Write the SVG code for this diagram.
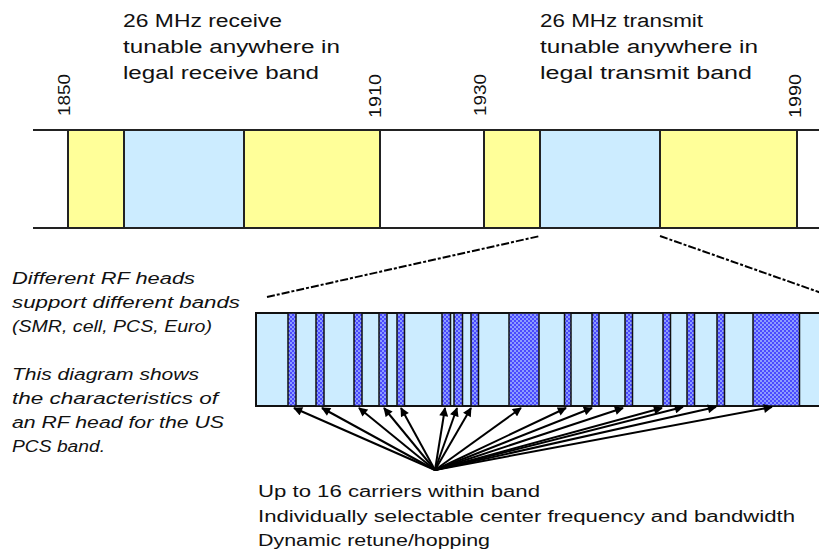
<svg xmlns="http://www.w3.org/2000/svg" width="819" height="552" viewBox="0 0 819 552">
<defs>
<pattern id="dots" width="4" height="4" patternUnits="userSpaceOnUse">
<rect width="4" height="4" fill="#4a4aff"/>
<rect x="0" y="0" width="2" height="2" fill="#8c9cff"/>
<rect x="2" y="2" width="2" height="2" fill="#8c9cff"/>
</pattern>
<marker id="ah" viewBox="0 0 10 10" refX="9" refY="5" markerWidth="5" markerHeight="4.5" orient="auto" markerUnits="strokeWidth">
<path d="M0,0 L10,5 L0,10 z" fill="#000"/>
</marker>
</defs>
<style>
.t{font-family:"Liberation Sans",Arial,sans-serif;font-size:18px;fill:#111}
.i{font-family:"Liberation Sans",Arial,sans-serif;font-size:16px;font-style:italic;fill:#111}
.b{font-family:"Liberation Sans",Arial,sans-serif;font-size:16px;fill:#111}
.y{fill:#ffff99}
.lb{fill:#ccecff}
.ln{stroke:#222;stroke-width:2;fill:none}
.car{fill:url(#dots);stroke:#111;stroke-width:1.5}
.arr{stroke:#000;stroke-width:2;fill:none;marker-end:url(#ah)}
.dash{stroke:#000;stroke-width:2;fill:none;stroke-dasharray:8 2 3 2}
</style>
<rect width="819" height="552" fill="#fff"/>

<g id="top-band">
<rect class="y" x="68" y="130" width="56" height="98"/>
<rect class="lb" x="124" y="130" width="120" height="98"/>
<rect class="y" x="244" y="130" width="136" height="98"/>
<rect class="y" x="484" y="130" width="56" height="98"/>
<rect class="lb" x="540" y="130" width="120" height="98"/>
<rect class="y" x="660" y="130" width="137" height="98"/>
<line class="ln" x1="33" y1="130" x2="819" y2="130"/>
<line class="ln" x1="33" y1="228" x2="819" y2="228"/>
<line class="ln" x1="68" y1="130" x2="68" y2="228"/>
<line class="ln" x1="124" y1="130" x2="124" y2="228"/>
<line class="ln" x1="244" y1="130" x2="244" y2="228"/>
<line class="ln" x1="380" y1="130" x2="380" y2="228"/>
<line class="ln" x1="484" y1="130" x2="484" y2="228"/>
<line class="ln" x1="540" y1="130" x2="540" y2="228"/>
<line class="ln" x1="660" y1="130" x2="660" y2="228"/>
<line class="ln" x1="797" y1="130" x2="797" y2="228"/>
</g>

<g id="freq-labels">
<text class="b" transform="translate(70,116) rotate(-90)" textLength="42" lengthAdjust="spacingAndGlyphs">1850</text>
<text class="b" transform="translate(381,118) rotate(-90)" textLength="44" lengthAdjust="spacingAndGlyphs">1910</text>
<text class="b" transform="translate(486,116) rotate(-90)" textLength="42" lengthAdjust="spacingAndGlyphs">1930</text>
<text class="b" transform="translate(801,118) rotate(-90)" textLength="44" lengthAdjust="spacingAndGlyphs">1990</text>
</g>

<g id="receive-label">
<text class="t" x="123" y="27" textLength="159" lengthAdjust="spacingAndGlyphs">26 MHz receive</text>
<text class="t" x="123" y="53" textLength="217" lengthAdjust="spacingAndGlyphs">tunable anywhere in</text>
<text class="t" x="123" y="79" textLength="196" lengthAdjust="spacingAndGlyphs">legal receive band</text>
</g>

<g id="transmit-label">
<text class="t" x="540" y="27" textLength="163" lengthAdjust="spacingAndGlyphs">26 MHz transmit</text>
<text class="t" x="540" y="53" textLength="218" lengthAdjust="spacingAndGlyphs">tunable anywhere in</text>
<text class="t" x="540" y="79" textLength="212" lengthAdjust="spacingAndGlyphs">legal transmit band</text>
</g>

<g id="side-note">
<text class="i" x="12" y="284" textLength="183" lengthAdjust="spacingAndGlyphs">Different RF heads</text>
<text class="i" x="12" y="308" textLength="228" lengthAdjust="spacingAndGlyphs">support different bands</text>
<text class="i" x="12" y="332" textLength="200" lengthAdjust="spacingAndGlyphs">(SMR, cell, PCS, Euro)</text>
<text class="i" x="12" y="380" textLength="187" lengthAdjust="spacingAndGlyphs">This diagram shows</text>
<text class="i" x="12" y="404" textLength="206" lengthAdjust="spacingAndGlyphs">the characteristics of</text>
<text class="i" x="12" y="428" textLength="212" lengthAdjust="spacingAndGlyphs">an RF head for the US</text>
<text class="i" x="12" y="452" textLength="93" lengthAdjust="spacingAndGlyphs">PCS band.</text>
</g>

<g id="pcs-band">
<rect class="lb" x="256" y="313" width="570" height="93" stroke="#111" stroke-width="2"/>
<rect class="car" x="288" y="313" width="8" height="93"/>
<rect class="car" x="316" y="313" width="8" height="93"/>
<rect class="car" x="354" y="313" width="8" height="93"/>
<rect class="car" x="379" y="313" width="8" height="93"/>
<rect class="car" x="397" y="313" width="7.5" height="93"/>
<rect class="car" x="442" y="313" width="8.5" height="93"/>
<rect class="car" x="454" y="313" width="8.5" height="93"/>
<rect class="car" x="471" y="313" width="7.5" height="93"/>
<rect class="car" x="509" y="313" width="30" height="93"/>
<rect class="car" x="564.5" y="313" width="6.5" height="93"/>
<rect class="car" x="592" y="313" width="7" height="93"/>
<rect class="car" x="625" y="313" width="7.5" height="93"/>
<rect class="car" x="663" y="313" width="7.5" height="93"/>
<rect class="car" x="687" y="313" width="7.5" height="93"/>
<rect class="car" x="717" y="313" width="7.5" height="93"/>
<rect class="car" x="753" y="313" width="46.5" height="93"/>
</g>

<g id="connectors">
<line class="dash" x1="267" y1="297" x2="540" y2="236"/>
<line class="dash" x1="660" y1="236" x2="830" y2="296"/>
<line class="arr" x1="435" y1="470" x2="294" y2="408"/>
<line class="arr" x1="435" y1="470" x2="322" y2="408"/>
<line class="arr" x1="435" y1="470" x2="359" y2="408"/>
<line class="arr" x1="435" y1="470" x2="384" y2="408"/>
<line class="arr" x1="435" y1="470" x2="401" y2="408"/>
<line class="arr" x1="435" y1="470" x2="445" y2="408"/>
<line class="arr" x1="435" y1="470" x2="457" y2="408"/>
<line class="arr" x1="435" y1="470" x2="471" y2="408"/>
<line class="arr" x1="435" y1="470" x2="521" y2="408"/>
<line class="arr" x1="435" y1="470" x2="566" y2="408"/>
<line class="arr" x1="435" y1="470" x2="592" y2="408"/>
<line class="arr" x1="435" y1="470" x2="623" y2="408"/>
<line class="arr" x1="435" y1="470" x2="662" y2="408"/>
<line class="arr" x1="435" y1="470" x2="683" y2="407"/>
<line class="arr" x1="435" y1="470" x2="716" y2="407"/>
<line class="arr" x1="435" y1="470" x2="772" y2="407"/>
</g>

<g id="carrier-notes">
<text class="b" x="258" y="497" textLength="282" lengthAdjust="spacingAndGlyphs">Up to 16 carriers within band</text>
<text class="b" x="258" y="522" textLength="537" lengthAdjust="spacingAndGlyphs">Individually selectable center frequency and bandwidth</text>
<text class="b" x="258" y="546" textLength="232" lengthAdjust="spacingAndGlyphs">Dynamic retune/hopping</text>
</g>
</svg>
